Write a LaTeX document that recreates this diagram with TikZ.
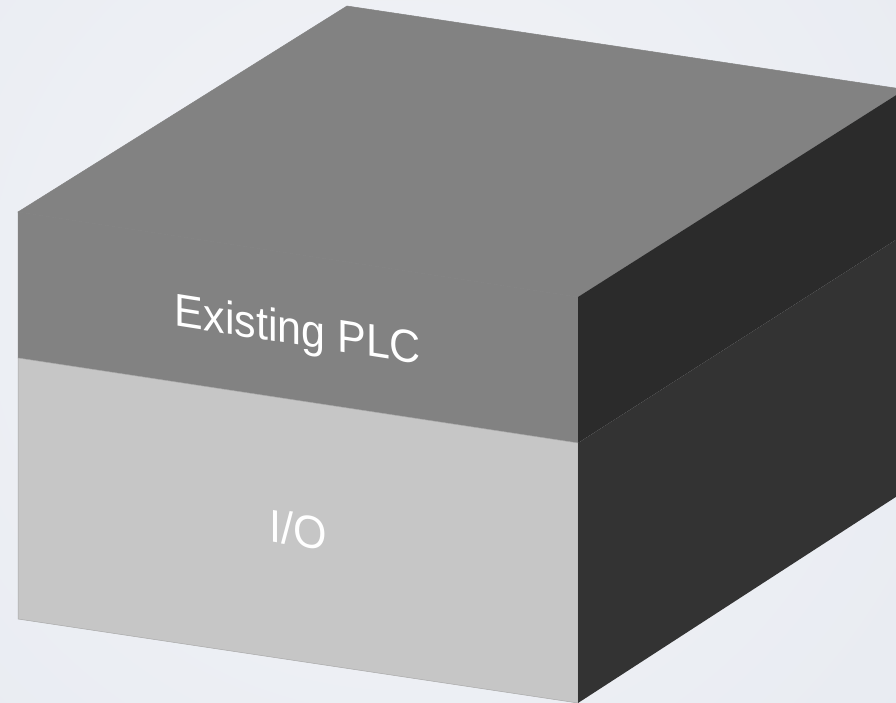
\documentclass[tikz,border=0pt]{standalone}
\usepackage{fontspec}
\setmainfont{Liberation Sans}
\definecolor{bgA}{HTML}{F3F4F7}
\definecolor{bgB}{HTML}{DFE4ED}
\definecolor{topFace}{HTML}{828282}
\definecolor{frontFace}{HTML}{C6C6C6}
\definecolor{sideUp}{HTML}{2B2B2B}
\definecolor{sideLow}{HTML}{333333}
\tikzset{
  face/.style={line width=0.5pt},
  lbl/.style={text=white,inner sep=0pt,anchor=base,font=\fontsize{43}{43}\selectfont,yscale=1.07,yslant=-0.147}
}
\begin{document}
\begin{tikzpicture}[x=1pt,y=-1pt]
\useasboundingbox (0,0) rectangle (896,703);
\begin{scope}
\clip (0,0) rectangle (896,703);
\shade[inner color=bgA,outer color=bgB] (400,300) circle[radius=1200];
\coordinate (tb) at (347,6);
\coordinate (tr) at (905,89.5);
\coordinate (tf) at (578,297);
\coordinate (tl) at (18,212);
\coordinate (ml) at (18,358);
\coordinate (mf) at (578,443);
\coordinate (mr) at (905,234);
\coordinate (bl) at (18,619);
\coordinate (bf) at (578,703);
\coordinate (br) at (905,491);
\fill[topFace,draw=topFace,face] (tb) -- (tr) -- (tf) -- (tl) -- cycle;
\fill[topFace,draw=topFace,face] (tl) -- (tf) -- (mf) -- (ml) -- cycle;
\fill[frontFace,draw=frontFace!85!black,face] (ml) -- (mf) -- (bf) -- (bl) -- cycle;
\fill[sideUp] (tf) -- (tr) -- (mr) -- (mf) -- cycle;
\fill[sideLow] (mf) -- (mr) -- (br) -- (bf) -- cycle;
\end{scope}
\node[lbl] (plc) at (298,345) {Existing PLC};
\node[lbl] (io) at (298,546.5) {I/O};
\end{tikzpicture}
\end{document}
